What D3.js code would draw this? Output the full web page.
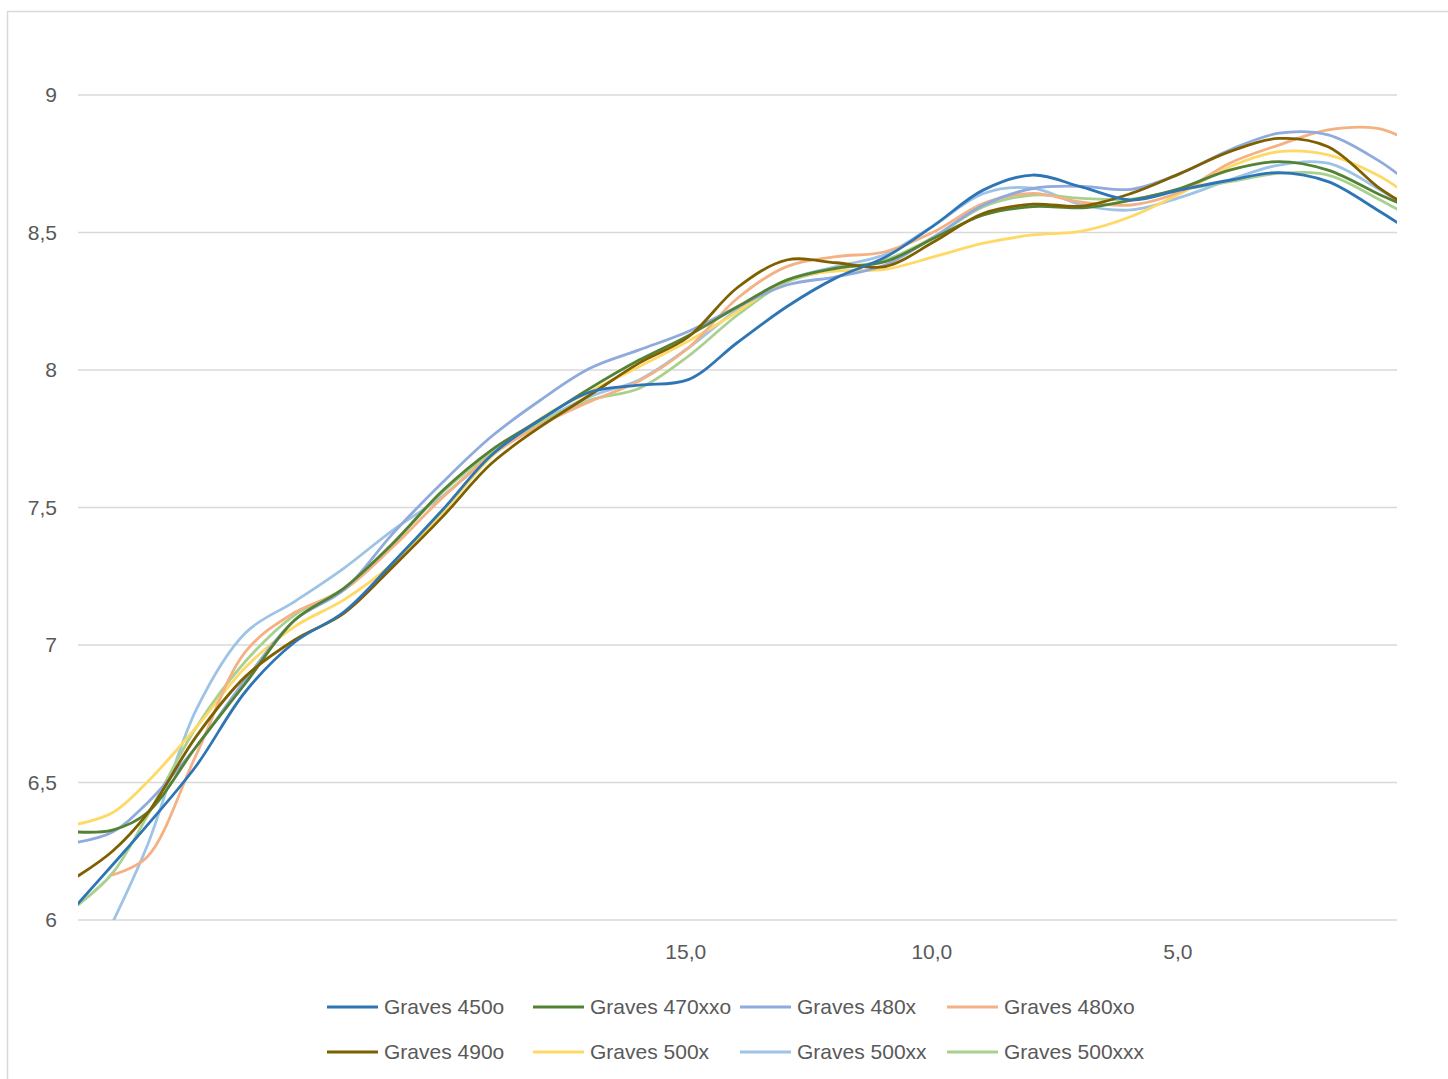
<!DOCTYPE html>
<html>
<head>
<meta charset="utf-8">
<script src="https://cdn.jsdelivr.net/npm/d3@7/dist/d3.min.js"></script>
<style>
  html, body { margin: 0; padding: 0; background: #ffffff; }
  svg { display: block; }
  text { font-family: "Liberation Sans", Arial, sans-serif; fill: #595959; }
</style>
</head>
<body>
<svg id="chart" width="1448" height="1079"></svg>
<script>
// ---- data ----
const xValues = [27.4, 26.7, 26, 25, 24, 23, 22, 21, 20, 19, 18, 17, 16, 15, 14, 13, 12, 11, 10, 9, 8, 7, 6, 5, 4, 3, 2, 1, 0.6];

const seriesNames = ["Graves 450o", "Graves 470xxo", "Graves 480x", "Graves 480xo",
                     "Graves 490o", "Graves 500x", "Graves 500xx", "Graves 500xxx"];

const graves450o   = [6.06, 6.20, 6.343, 6.56, 6.83, 7.01, 7.12, 7.30, 7.49, 7.69, 7.82, 7.92, 7.945, 7.965, 8.10, 8.23, 8.335, 8.41, 8.527, 8.655, 8.709, 8.665, 8.618, 8.655, 8.69, 8.718, 8.685, 8.582, 8.537];
const graves470xxo = [6.32, 6.327, 6.389, 6.63, 6.86, 7.09, 7.206, 7.37, 7.56, 7.709, 7.82, 7.933, 8.036, 8.125, 8.23, 8.327, 8.37, 8.394, 8.48, 8.564, 8.594, 8.59, 8.618, 8.661, 8.727, 8.758, 8.727, 8.642, 8.61];
const graves480x   = [6.283, 6.32, 6.424, 6.63, 6.873, 7.09, 7.20, 7.406, 7.59, 7.758, 7.891, 8.006, 8.073, 8.14, 8.23, 8.309, 8.339, 8.382, 8.485, 8.60, 8.66, 8.668, 8.657, 8.715, 8.80, 8.861, 8.855, 8.764, 8.715];
const graves480xo  = [null, 6.164, 6.228, 6.60, 6.975, 7.118, 7.20, 7.357, 7.535, 7.69, 7.80, 7.885, 7.96, 8.08, 8.261, 8.376, 8.412, 8.43, 8.503, 8.606, 8.642, 8.61, 8.60, 8.648, 8.752, 8.818, 8.873, 8.879, 8.855];
const graves490o   = [6.16, 6.25, 6.385, 6.667, 6.885, 7.018, 7.115, 7.285, 7.465, 7.66, 7.794, 7.909, 8.025, 8.12, 8.30, 8.40, 8.39, 8.376, 8.467, 8.57, 8.603, 8.596, 8.642, 8.715, 8.794, 8.842, 8.812, 8.667, 8.62];
const graves500x   = [6.349, 6.39, 6.50, 6.70, 6.918, 7.067, 7.164, 7.297, 7.48, 7.685, 7.824, 7.921, 8.012, 8.105, 8.212, 8.327, 8.36, 8.366, 8.412, 8.461, 8.491, 8.505, 8.558, 8.642, 8.739, 8.794, 8.782, 8.709, 8.665];
const graves500xx  = [null, 5.99, 6.267, 6.764, 7.044, 7.158, 7.279, 7.418, 7.54, 7.69, 7.812, 7.903, 7.964, 8.08, 8.22, 8.327, 8.376, 8.42, 8.527, 8.642, 8.661, 8.60, 8.582, 8.628, 8.691, 8.745, 8.752, 8.661, 8.616];
const graves500xxx = [6.055, 6.17, 6.376, 6.70, 6.94, 7.109, 7.206, 7.37, 7.555, 7.70, 7.81, 7.891, 7.933, 8.05, 8.20, 8.32, 8.367, 8.40, 8.485, 8.594, 8.636, 8.624, 8.621, 8.655, 8.685, 8.715, 8.709, 8.624, 8.585];

const seriesColors = ["#2E75B6", "#548235", "#8FAADC", "#F4B183", "#7F6000", "#FFD966", "#9DC3E6", "#A9D18E"];

const yTicks = [6, 6.5, 7, 7.5, 8, 8.5, 9];
const xTicks = [15, 10, 5];

// ---- chart ----
const svg = d3.select("#chart");
const plotLeft = 78, plotRight = 1397, plotTop = 95, plotBottom = 920;

const loc = d3.formatLocale({decimal: ",", thousands: ".", grouping: [3], currency: ["", ""]});
const fmtY = loc.format("~g");
const fmtX = loc.format(".1f");

const x = d3.scaleLinear().domain([27.4, 0.6]).range([plotLeft, plotRight]);
const y = d3.scaleLinear().domain([6, 9]).range([plotBottom, plotTop]);

// outer chart border
svg.append("rect")
  .attr("x", 7.5).attr("y", 11.5)
  .attr("width", 1460).attr("height", 1100)
  .attr("fill", "none").attr("stroke", "#d9d9d9").attr("stroke-width", 1.5);

// gridlines
svg.append("g")
  .selectAll("line").data(yTicks).join("line")
  .attr("x1", plotLeft).attr("x2", plotRight)
  .attr("y1", d => y(d)).attr("y2", d => y(d))
  .attr("stroke", "#d9d9d9").attr("stroke-width", 1.5);

// y axis labels
const yAxis = d3.axisLeft(y).tickValues(yTicks).tickFormat(fmtY).tickSize(0).tickPadding(0);
const gy = svg.append("g").attr("transform", `translate(${57},0)`).call(yAxis);
gy.select(".domain").remove();
gy.selectAll("text").attr("font-size", 21).attr("fill", "#595959")
  .style("font-family", "'Liberation Sans', Arial, sans-serif");

// x axis labels
const xAxis = d3.axisBottom(x).tickValues(xTicks).tickFormat(fmtX).tickSize(0).tickPadding(0);
const gx = svg.append("g").attr("transform", `translate(-3,${944})`).call(xAxis);
gx.select(".domain").remove();
gx.selectAll("text").attr("font-size", 21).attr("fill", "#595959").attr("dy", "0.71em")
  .style("font-family", "'Liberation Sans', Arial, sans-serif");

// clip
svg.append("clipPath").attr("id", "plotClip")
  .append("rect").attr("x", plotLeft).attr("y", plotTop - 20)
  .attr("width", plotRight - plotLeft).attr("height", plotBottom - plotTop + 20);

const allSeries = [graves450o, graves470xxo, graves480x, graves480xo, graves490o, graves500x, graves500xx, graves500xxx];
const data = allSeries.map((vals, i) => ({
  name: seriesNames[i], color: seriesColors[i],
  points: xValues.map((xv, j) => ({x: xv, y: vals[j]}))
}));

const line = d3.line()
  .defined(d => d.y !== null)
  .x(d => x(d.x)).y(d => y(d.y))
  .curve(d3.curveCatmullRom.alpha(0.5));

const drawOrder = [6, 7, 5, 3, 2, 1, 4, 0];
svg.append("g").attr("clip-path", "url(#plotClip)")
  .selectAll("path").data(drawOrder.map(i => data[i])).join("path")
  .attr("d", d => line(d.points))
  .attr("fill", "none")
  .attr("stroke", d => d.color)
  .attr("stroke-width", 2.8)
  .attr("stroke-linejoin", "round")
  .attr("stroke-linecap", "round");

// legend
const legX = [327, 533, 740, 947];
const legY = [1007, 1052];
const leg = svg.append("g").selectAll("g").data(data).join("g")
  .attr("transform", (d, i) => `translate(${legX[i % 4]},${legY[Math.floor(i / 4)]})`);
leg.append("line").attr("x1", 0).attr("x2", 51).attr("y1", 0).attr("y2", 0)
  .attr("stroke", d => d.color).attr("stroke-width", 2.8);
leg.append("text").attr("x", 57).attr("y", 0).attr("dy", "0.35em")
  .attr("font-size", 21).text(d => d.name);
</script>
</body>
</html>
